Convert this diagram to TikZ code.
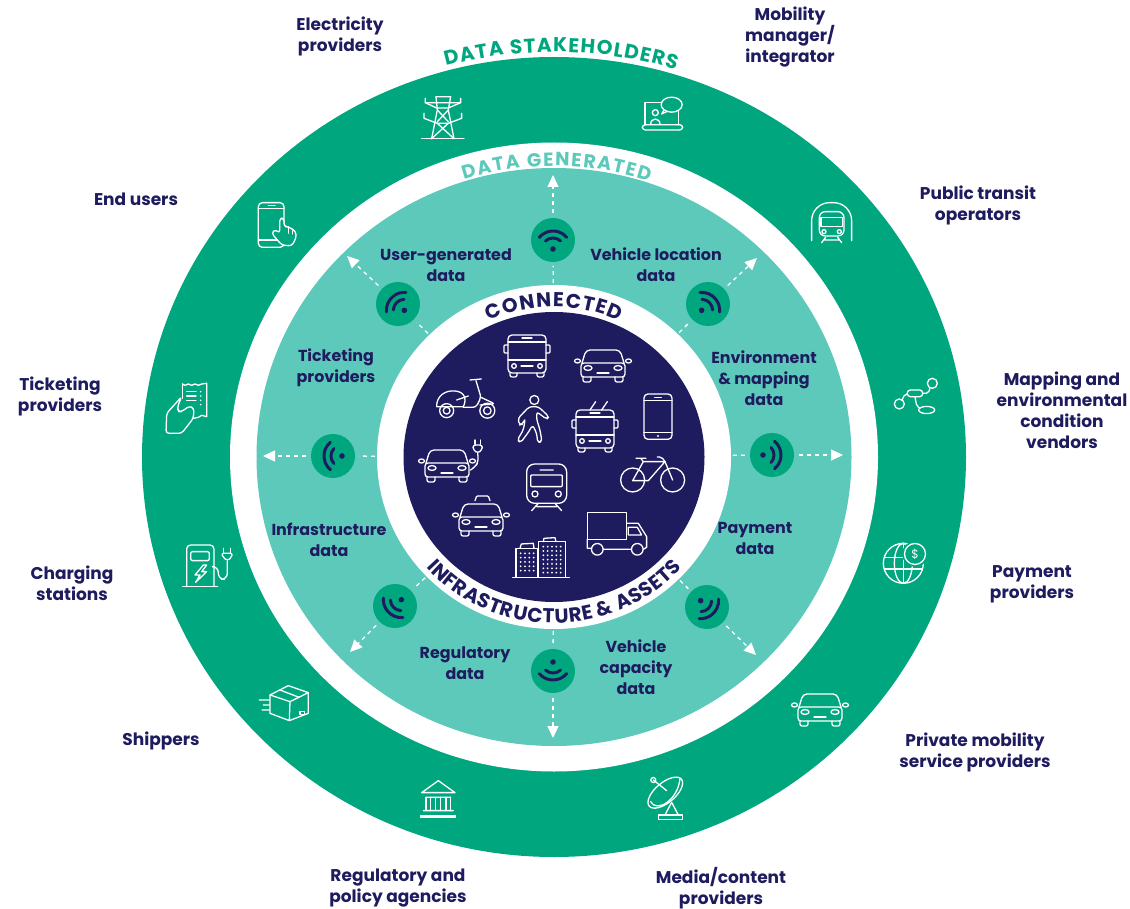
\documentclass[tikz,border=0pt]{standalone}
\usepackage{fontspec}
\setmainfont{Poppins}
\usetikzlibrary{shapes.geometric,arrows.meta}
\definecolor{ringgreen}{HTML}{00A77E}
\definecolor{ringteal}{HTML}{5CC9BB}
\definecolor{deepnavy}{HTML}{1E1B5E}
\newdimen\arcT \newdimen\arcS \newdimen\arcW
% #1 name, #2 font+colour, #3 rx, #4 ry, #5 centre angle, #6 sign, #7 tracking, #8 letters
\newcommand\ArcText[8]{%
  \global\arcT=0pt
  \foreach \lt in {#8}{\setbox0=\hbox{\pgfinterruptpicture#2\lt\endpgfinterruptpicture}\global\advance\arcT by\wd0\relax\global\advance\arcT by #7\relax}
  \global\arcS=-0.5\arcT
  \foreach \lt [count=\idx] in {#8}{%
    \setbox0=\hbox{\pgfinterruptpicture#2\lt\endpgfinterruptpicture}\arcW=\wd0\relax\advance\arcW by #7\relax
    \pgfmathsetmacro\ang{#5-#6*deg((\arcS+0.5*\arcW)/((#3+#4)/2))}
    \pgfmathsetmacro\rr{\ang-90*#6}
    \node[inner sep=0pt,anchor=base,rotate=\rr] (#1\idx) at ([shift={(\ang:#3pt and #4pt)}]stake.center) {#2\lt};
    \global\advance\arcS by\arcW\relax
  }%
}
\tikzset{
  disc/.style={ellipse,inner sep=0pt,outer sep=0pt},
  lbl/.style={align=center,text=deepnavy,inner sep=0pt,font=\fontsize{17}{21}\selectfont\bfseries},
  dlbl/.style={lbl,font=\fontsize{15.9}{21}\selectfont\bfseries},
  ico/.style={draw=white,line width=1.3pt,line join=round,line cap=round},
  wifinode/.style={circle,fill=ringgreen,minimum size=44pt,inner sep=0pt,outer sep=0pt},
  flow/.style={draw=white,line width=1.3pt,dash pattern=on 4pt off 4pt,shorten <=5pt},
  flowtip/.style={flow,-{Triangle[length=12pt,width=11pt,fill=white]}},
  wifipic/.pic={
    \fill[deepnavy] (0,9) circle[radius=2.8pt];
    \draw[deepnavy,line width=3pt,line cap=round] ([shift={(140:18pt)}]0,9) arc[start angle=140,end angle=40,radius=18pt];
    \draw[deepnavy,line width=3pt,line cap=round] ([shift={(133:11pt)}]0,9) arc[start angle=133,end angle=47,radius=11pt];
  },
  carpic/.pic={
    \draw[ico,rounded corners=4pt] (-21,-1)--(-17,-14)--(17,-14)--(21,-1);
    \draw[ico,rounded corners=3pt] (-22,-1) rectangle (22,13);
    \draw[ico] (-25.5,-3) ellipse[x radius=3pt,y radius=2pt];
    \draw[ico] (25.5,-3) ellipse[x radius=3pt,y radius=2pt];
    \draw[ico] (-15,4) ellipse[x radius=4pt,y radius=2.4pt];
    \draw[ico] (15,4) ellipse[x radius=4pt,y radius=2.4pt];
    \draw[ico] (-6,9)--(6,9);
    \draw[ico,rounded corners=2pt] (-20,13)--(-20,18)--(-12,18)--(-12,13);
    \draw[ico,rounded corners=2pt] (12,13)--(12,18)--(20,18)--(20,13);
  },
  buspic/.pic={
    \draw[ico,rounded corners=4pt] (-19,-21) rectangle (19,17);
    \draw[ico] (-19,-14)--(19,-14);
    \draw[ico] (-19,4)--(19,4);
    \draw[ico] (-5,-18)--(5,-18);
    \draw[ico,rounded corners=1pt] (-19,-11)--(-23,-11)--(-23,-3)--(-19,-3);
    \draw[ico,rounded corners=1pt] (19,-11)--(23,-11)--(23,-3)--(19,-3);
    \draw[ico] (-13,10) circle[radius=2.3pt];
    \draw[ico] (13,10) circle[radius=2.3pt];
    \draw[ico] (-6,10)--(6,10);
    \draw[ico,rounded corners=2pt] (-17,17)--(-17,21)--(-10,21)--(-10,17);
    \draw[ico,rounded corners=2pt] (10,17)--(10,21)--(17,21)--(17,17);
  }
}
\begin{document}
\begin{tikzpicture}[x=1pt,y=-1pt]
\useasboundingbox (0,0) rectangle (1130,909);
\fill[white] (0,0) rectangle (1130,909);
% rings
\node[disc,fill=ringgreen,minimum width=824pt,minimum height=800pt] (stake) at (554,457) {};
\node[disc,fill=white,minimum width=648pt,minimum height=629pt] (gapA) at (554,457) {};
\node[disc,fill=ringteal,minimum width=595pt,minimum height=578pt] (gen) at (554,457) {};
\node[disc,fill=white,minimum width=354pt,minimum height=344pt] (hub) at (554,457) {};
\node[disc,fill=deepnavy,minimum width=301pt,minimum height=290pt] (core) at (554,457) {};
% arc titles
\ArcText{ta}{\fontsize{20}{20}\selectfont\bfseries\color{ringgreen}}{417}{405}{89}{1}{1pt}{D,A,T,A,\ ,S,T,A,K,E,H,O,L,D,E,R,S}
\ArcText{tb}{\fontsize{19}{19}\selectfont\bfseries\color{ringteal}}{297.5}{291}{89.5}{1}{1.4pt}{D,A,T,A,\ ,G,E,N,E,R,A,T,E,D}
\ArcText{tc}{\fontsize{20}{20}\selectfont\bfseries\color{deepnavy}}{155}{150}{90}{1}{1pt}{C,O,N,N,E,C,T,E,D}
\ArcText{td}{\fontsize{20}{20}\selectfont\bfseries\color{deepnavy}}{172}{166}{270}{-1}{0.4pt}{I,N,F,R,A,S,T,R,U,C,T,U,R,E,\ ,\&,\ ,A,S,S,E,T,S}
% wifi circles
\node[wifinode] (nT) at (553,240) {};
\node[wifinode] (nTR) at (708,304) {};
\node[wifinode] (nR) at (772,455) {};
\node[wifinode] (nBR) at (707,607) {};
\node[wifinode] (nB) at (553,671) {};
\node[wifinode] (nBL) at (395,606) {};
\node[wifinode] (nL) at (333,456) {};
\node[wifinode] (nTL) at (398,304) {};
\pic at (nT) {wifipic};
\pic[rotate=-45] at (nTR) {wifipic};
\pic[rotate=-90] at (nR) {wifipic};
\pic[rotate=-135] at (nBR) {wifipic};
\pic[rotate=180] at (nB) {wifipic};
\pic[rotate=135] at (nBL) {wifipic};
\pic[rotate=90] at (nL) {wifipic};
\pic[rotate=45] at (nTL) {wifipic};
% arrows
\coordinate (tT) at (553,175);
\coordinate (tTR) at (757,258);
\coordinate (tR) at (843,455);
\coordinate (tBR) at (756,655);
\coordinate (tB) at (553,738);
\coordinate (tBL) at (350,652);
\coordinate (tL) at (263,456);
\coordinate (tTL) at (347,256);
\foreach \nd/\tp in {nT/tT,nTR/tTR,nR/tR,nBR/tBR,nB/tB,nBL/tBL,nL/tL,nTL/tTL}{
  \draw[flowtip] (\nd) -- (\tp);
  \draw[flow,shorten <=2pt,shorten >=4pt] (hub) -- (\nd);
}
% outer labels
\node[lbl] (l1) at (340,36.5) {Electricity\\providers};
\node[lbl] (l2) at (790,37) {Mobility\\manager/\\integrator};
\node[lbl] (l3) at (978,205.5) {Public transit\\operators};
\node[lbl] (l4) at (1062,410) {Mapping and\\environmental\\condition\\vendors};
\node[lbl] (l5) at (1032,584.5) {Payment\\providers};
\node[lbl] (l6) at (975,752) {Private mobility\\service providers};
\node[lbl] (l7) at (721,888.5) {Media/content\\providers};
\node[lbl] (l8) at (398,888.5) {Regulatory and\\policy agencies};
\node[lbl] (l9) at (161,741) {Shippers};
\node[lbl] (l10) at (72,583.5) {Charging\\stations};
\node[lbl] (l11) at (60,396) {Ticketing\\providers};
\node[lbl] (l12) at (136,199) {End users};
% inner labels
\node[dlbl] (d1) at (446,265) {User-generated\\data};
\node[dlbl] (d2) at (656,265) {Vehicle location\\data};
\node[dlbl] (d3) at (336,368) {Ticketing\\providers};
\node[dlbl] (d4) at (764,378) {Environment\\\& mapping\\data};
\node[dlbl] (d5) at (329,540) {Infrastructure\\data};
\node[dlbl] (d6) at (755,538) {Payment\\data};
\node[dlbl] (d7) at (465,663) {Regulatory\\data};
\node[dlbl] (d8) at (636,667) {Vehicle\\capacity\\data};
% repeated vehicle icons
\pic at (603,364) {carpic};
\pic at (447,464) {carpic};
\pic at (481,518) {carpic};
\pic at (820,708) {carpic};
\pic at (527,356) {buspic};
\pic at (595,431) {buspic};
% navy-disc icons, zoom coordinates
\begin{scope}[shift={(400,290)},x=0.3333pt,y=-0.3333pt]
  \draw[ico,rounded corners=1pt] (225,632)--(230,618)--(265,618)--(270,632);
  \draw[ico] (570,360)--(587,335) (605,360)--(622,335);
  \draw[ico,rounded corners=3pt] (218,465)--(248,465)--(246,480)--(233,490)--(220,480)--cycle;
  \draw[ico] (225,450)--(225,463) (241,450)--(241,463);
  \draw[ico,rounded corners=5pt] (233,490)--(236,515)--(224,532)--(212,540);
  \draw[ico] (140,362) circle[radius=7pt] (140,362) circle[radius=3.4pt];
  \draw[ico] (262,362) circle[radius=7.5pt] (262,362) circle[radius=3.8pt];
  \draw[ico] (110,345)..controls (112,318) and (135,300)..(165,303)..controls (192,305) and (202,325)..(190,350)--(110,350)--cycle;
  \draw[ico,rounded corners=3pt] (190,352)--(228,352)--(243,322)--(228,272);
  \draw[ico] (210,270)--(244,267);
  \draw[ico,rounded corners=3pt] (243,322)--(285,342)--(240,345);
  \draw[ico] (170,330)--(205,318);
  \draw[ico] (403,330) circle[radius=4.5pt];
  \draw[ico,rounded corners=3pt] (388,350)--(354,385)--(358,405)--(367,403)--(376,385)--(370,420)--(352,450)--(362,458)--(385,427)--(398,405)--(410,430)--(413,458)--(426,455)--(420,420)--(410,388)--(410,365)--(440,388)--(447,380)--(415,350)--cycle;
  \draw[ico,rounded corners=4pt] (732,312) rectangle (816,448);
  \draw[ico] (732,331)--(816,331) (732,428)--(816,428) (764,322)--(784,322);
  \fill[white] (774,438) circle[radius=1.2pt];
  \draw[ico] (698,570) circle[radius=12pt] (818,570) circle[radius=12pt];
  \draw[ico] (698,572)--(730,515)--(795,515)--(745,572)--cycle;
  \draw[ico] (730,515)--(722,505) (708,505)--(738,505) (795,515)--(818,570);
  \draw[ico,rounded corners=2pt] (795,515)--(785,501)--(772,501);
  \draw[ico,rounded corners=8pt] (380,640)--(380,522)--(500,522)--(500,640)--cycle;
  \draw[ico,rounded corners=1pt] (392,555) rectangle (487,590);
  \draw[ico] (405,612) circle[radius=3pt] (475,612) circle[radius=3pt];
  \draw[ico] (420,540)--(460,540) (395,662)--(415,640) (485,662)--(465,640) (410,650)--(470,650);
  \draw[ico] (562,667) rectangle (680,748);
  \draw[ico] (562,748)--(562,775)--(573,775) (610,778)--(692,778) (730,778)--(740,772)--(740,740)--(715,700)--(680,700);
  \draw[ico] (685,712)--(712,712)--(725,735)--(685,735)--cycle;
  \draw[ico] (592,778) circle[radius=5.8pt] (712,778) circle[radius=5.8pt];
  \draw[ico] (338,862)--(508,862);
  \draw[ico] (348,862)--(348,775)--(412,775)--(412,862);
  \draw[ico] (360,775)--(364,762)--(400,760)--(402,775);
  \draw[ico] (416,862)--(416,755)--(497,755)--(497,862);
  \draw[ico] (430,755)--(432,745)--(465,743)--(468,755);
  \foreach \i in {0,...,3}\foreach \j in {0,...,4}{\fill[white] (362+\i*13,790+\j*13) circle[radius=1pt];}
  \foreach \i in {0,...,4}\foreach \j in {0,...,6}{\fill[white] (430+\i*13,770+\j*13) circle[radius=1pt];}
\end{scope}
\begin{scope}[shift={(240,30)},x=0.3333pt,y=-0.3333pt]
  \draw[ico] (545,326)--(672,326);
  \draw[ico] (575,326)--(592,240)--(588,200)--(632,200)--(625,240)--(642,326);
  \draw[ico] (556,205)--(556,218)--(590,234)--(625,234)--(662,218)--(662,205);
  \draw[ico] (552,250)--(552,265)--(592,280)--(625,280)--(665,265)--(665,250);
  \draw[ico] (592,240)--(625,275) (625,240)--(592,275) (592,280)--(642,326) (625,280)--(575,326) (556,218)--(662,218);
  \draw[ico,rounded corners=4pt] (55,518) rectangle (132,652);
  \draw[ico] (55,535)--(132,535) (55,630)--(132,630) (85,527)--(105,527);
  \filldraw[ico,fill=ringgreen,rounded corners=3pt] (119,610)--(119,565)--(132,565)--(132,590)--(145,590)--(168,605)--(168,625)--(155,648)--(125,645)--(95,610)--(105,598)--cycle;
  \draw[ico] (145,590)--(145,610) (157,597)--(157,612);
\end{scope}
\begin{scope}[shift={(540,30)},x=0.3333pt,y=-0.3333pt]
  \draw[ico] (315,285)--(315,218)--(365,218) (415,245)--(415,285);
  \draw[ico,rounded corners=3pt] (307,284) rectangle (428,300);
  \draw[ico] (395,224) ellipse[x radius=10.5pt,y radius=7.5pt];
  \draw[ico] (372,240)--(365,252)--(382,244);
  \draw[ico] (346,248) circle[radius=3pt];
  \draw[ico] (332,283)..controls (332,262) and (360,262)..(360,283);
  \draw[ico,rounded corners=18pt] (815,632)--(815,518)--(935,518)--(935,632);
  \draw[ico,rounded corners=6pt] (838,618)--(838,545)--(912,545)--(912,618)--cycle;
  \draw[ico] (843,563) rectangle (907,590);
  \draw[ico] (852,605) circle[radius=2pt] (898,605) circle[radius=2pt];
  \draw[ico] (845,638)--(857,622) (905,638)--(893,622) (852,630)--(898,630);
\end{scope}
\begin{scope}[shift={(780,370)},x=0.3333pt,y=-0.3333pt]
  \draw[ico] (358,102) circle[radius=5pt] (457,40) circle[radius=5pt];
  \draw[ico,rounded corners=3pt] (382,60) rectangle (428,80);
  \draw[ico] (440,120) ellipse[x radius=8pt,y radius=3.6pt];
  \draw[ico,rounded corners=2pt] (365,92)--(375,72)--(382,72) (428,70)--(445,70)--(450,54) (405,80)--(410,108)--(420,115);
  \draw[ico] (370,580) circle[radius=20pt];
  \draw[ico] (370,580) ellipse[x radius=9pt,y radius=20pt];
  \draw[ico] (314,562)--(426,562) (314,597)--(426,597) (370,520)--(370,640);
  \fill[ringgreen] (405,552) circle[radius=13pt];
  \draw[ico] (405,552) circle[radius=10.5pt];
  \node[text=white,inner sep=0pt,font=\fontsize{12}{12}\selectfont] (dollar) at (405,552) {\$};
\end{scope}
\begin{scope}[shift={(400,570)},x=0.3333pt,y=-0.3333pt]
  \draw[ico] (65,668)--(115,632)--(165,668)--cycle (78,682)--(152,682) (70,722)--(160,722);
  \draw[ico] (78,682)--(78,722) (92,682)--(92,722) (107,682)--(107,722) (122,682)--(122,722) (138,682)--(138,722) (152,682)--(152,722);
  \draw[white,line width=2.6pt] (60,740)--(167,740);
  \draw[ico] (775,735) rectangle (848,748);
  \draw[ico] (795,735)--(815,697)--(835,735);
  \draw[ico,rotate around={40:(796,668)}] (796,668) ellipse[x radius=21pt,y radius=10pt];
  \draw[ico] (752,695)..controls (770,730) and (835,690)..(840,625);
  \draw[ico] (760,630)--(800,662);
  \draw[ico] (760,630) circle[radius=2.5pt];
\end{scope}
\begin{scope}[shift={(150,370)},x=0.3333pt,y=-0.3333pt]
  \draw[ico] (360,975)--(415,947)--(475,968)--(420,995)--cycle;
  \draw[ico] (360,975)--(360,1030)--(418,1052)--(420,995) (475,968)--(475,1030)--(418,1052);
  \draw[ico] (390,960)--(447,982) (328,990)--(358,990) (340,1005)--(358,1005) (336,1020)--(358,1020);
  \draw[ico] (450,1024)--(464,1024)--(464,1034)--(450,1034)--cycle;
  \draw[ico,rounded corners=4pt] (110,650)--(110,525)--(192,525)--(192,650);
  \draw[ico] (98,650)--(203,650);
  \draw[ico,rounded corners=2pt] (122,545) rectangle (178,572);
  \draw[ico] (160,585)--(135,615)--(150,615)--(137,637)--(170,605)--(155,605)--(170,585)--cycle;
  \draw[ico,rounded corners=6pt] (192,590)--(205,590)--(205,628)--(232,628)--(232,572);
  \draw[ico,rounded corners=2pt] (215,550)--(247,550)--(245,562)--(232,572)--(219,562)--cycle;
  \draw[ico] (221,535)--(221,548) (241,535)--(241,548);
  \draw[ico] (97,42)--(105,46)--(115,42)--(125,46)--(135,42)--(145,46)--(155,42)--(170,40)--(170,140)--(155,136)--(145,142)--(130,145);
  \draw[ico] (97,42)--(97,85);
  \draw[ico] (110,65)--(138,65) (110,78)--(138,78) (110,91)--(138,91);
  \foreach \yy in {65,78,91,104}{\fill[white] (152,\yy) circle[radius=.9pt];}
  \filldraw[ico,fill=ringgreen,rounded corners=3pt] (95,80)--(50,130)--(48,190)--(95,190)--(130,145)--(132,115)--(118,108)--(95,125)--(85,125)--(82,112)--cycle;
\end{scope}
\end{tikzpicture}
\end{document}
